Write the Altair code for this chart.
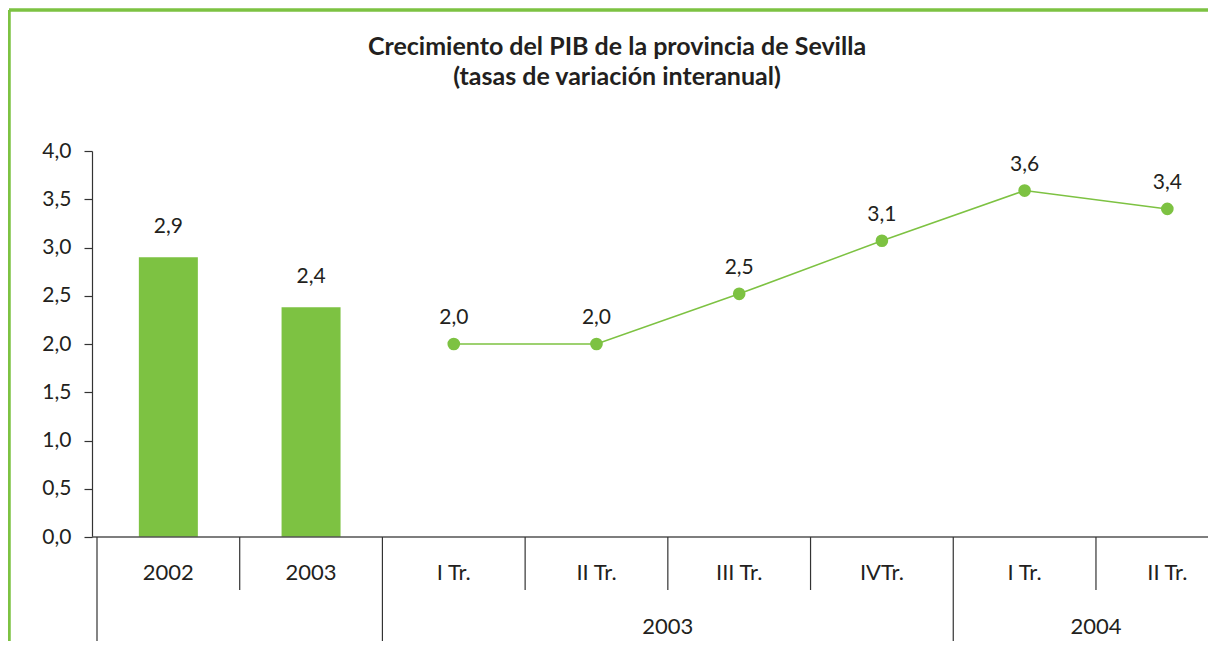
import altair as alt
import pandas as pd

# ---- data ----
categories = ["2002", "2003", "I Tr.", "II Tr.", "III Tr.", "IVTr.", "I Tr.", "II Tr."]
bar_values = [2.9, 2.38]
line_values = [2.0, 2.0, 2.52, 3.07, 3.59, 3.4]
group_labels = ["2003", "2004"]
group_spans = [(2, 6), (6, 8)]
long_separators = [0, 2, 6]
short_separators = [1, 3, 4, 5, 7]
title_lines = ["Crecimiento del PIB de la provincia de Sevilla", "(tasas de variación interanual)"]

GREEN = "#7dc242"
TEXT = "#231f20"
FONT = "Lato"

W, H = 1116, 386
BAND = 144
x_max = W / BAND

xs = alt.Scale(domain=[0, x_max], nice=False, zero=False)
ys = alt.Scale(domain=[0, 4], nice=False)

bars_df = pd.DataFrame({"pos": [i + 0.5 for i in range(len(bar_values))], "value": bar_values})
line_df = pd.DataFrame({"pos": [i + 2.5 for i in range(len(line_values))], "value": line_values})
cat_df = pd.DataFrame({"pos": [i + 0.5 for i in range(len(categories))], "label": categories})
grp_df = pd.DataFrame({"pos": [(a + b) / 2 for a, b in group_spans], "label": group_labels})
long_df = pd.DataFrame({"pos": long_separators})
short_df = pd.DataFrame({"pos": short_separators})
title_df = pd.DataFrame({"line": title_lines, "row": [0, 1]})

fmt = "replace(format(datum.value, '.1f'), '.', ',')"

bars = alt.Chart(bars_df).mark_bar(size=59, color=GREEN).encode(
    x=alt.X("pos:Q", scale=xs, axis=None),
    y=alt.Y("value:Q", scale=ys, axis=alt.Axis(
        values=[0, 0.5, 1, 1.5, 2, 2.5, 3, 3.5, 4],
        labelExpr=fmt, grid=False, domainColor="#333", tickColor="#333",
        tickSize=8, labelPadding=13, labelFontSize=21, labelFont=FONT,
        labelColor=TEXT, title=None, domainWidth=1.2, tickWidth=1.2)),
)
bar_text = alt.Chart(bars_df).transform_calculate(lbl=fmt).mark_text(
    dy=-30, fontSize=21, font=FONT, color=TEXT, baseline="middle").encode(
    x=alt.X("pos:Q", scale=xs), y=alt.Y("value:Q", scale=ys), text="lbl:N")

line = alt.Chart(line_df).mark_line(color=GREEN, strokeWidth=1.5).encode(
    x=alt.X("pos:Q", scale=xs), y=alt.Y("value:Q", scale=ys))
pts = alt.Chart(line_df).mark_circle(color=GREEN, size=160, opacity=1).encode(
    x=alt.X("pos:Q", scale=xs), y=alt.Y("value:Q", scale=ys))
pt_text = alt.Chart(line_df).transform_calculate(lbl=fmt).mark_text(
    dy=-26, fontSize=21, font=FONT, color=TEXT, baseline="middle").encode(
    x=alt.X("pos:Q", scale=xs), y=alt.Y("value:Q", scale=ys), text="lbl:N")

xaxis = alt.Chart(bars_df).mark_rule(color="#555", strokeWidth=1.2).encode(
    y=alt.datum(0, scale=ys), x=alt.value(0), x2=alt.value(W))

long_sep = alt.Chart(long_df).mark_rule(color="#333", strokeWidth=1.2).encode(
    x=alt.X("pos:Q", scale=xs), y=alt.value(H), y2=alt.value(H + 106))
short_sep = alt.Chart(short_df).mark_rule(color="#333", strokeWidth=1.2).encode(
    x=alt.X("pos:Q", scale=xs), y=alt.value(H), y2=alt.value(H + 53))

cat_text = alt.Chart(cat_df).mark_text(fontSize=22, font=FONT, color=TEXT, baseline="middle").encode(
    x=alt.X("pos:Q", scale=xs), y=alt.value(H + 36), text="label:N")
grp_text = alt.Chart(grp_df).mark_text(fontSize=22, font=FONT, color=TEXT, baseline="middle").encode(
    x=alt.X("pos:Q", scale=xs), y=alt.value(H + 90), text="label:N")

title0 = alt.Chart(title_df).transform_filter("datum.row == 0").mark_text(
    fontSize=25, font=FONT, fontWeight="bold", color=TEXT, baseline="middle").encode(
    x=alt.value(525), y=alt.value(-104), text="line:N")
title1 = alt.Chart(title_df).transform_filter("datum.row == 1").mark_text(
    fontSize=25, font=FONT, fontWeight="bold", color=TEXT, baseline="middle").encode(
    x=alt.value(525), y=alt.value(-74), text="line:N")

border_top = alt.Chart(title_df).mark_rule(color=GREEN, strokeWidth=3).encode(
    x=alt.value(-83), x2=alt.value(W + 10), y=alt.value(-141))
border_left = alt.Chart(title_df).mark_rule(color=GREEN, strokeWidth=3).encode(
    x=alt.value(-83), y=alt.value(-141), y2=alt.value(H + 130))

chart = alt.layer(
    border_top, border_left, title0, title1,
    bars, bar_text, xaxis, long_sep, short_sep, line, pts, pt_text, cat_text, grp_text,
).properties(
    width=W, height=H,
    autosize=alt.AutoSizeParams(type="none"),
    padding={"left": 84, "top": 143, "right": 0, "bottom": 104},
).configure_view(stroke=None)

chart.save("out.html", embed_options={"renderer": "svg", "actions": False})
